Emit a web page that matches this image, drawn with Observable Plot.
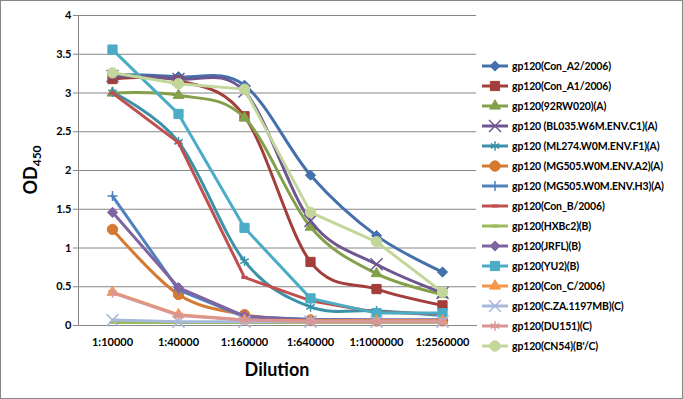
<!DOCTYPE html>
<html><head><meta charset="utf-8">
<script src="https://cdn.jsdelivr.net/npm/d3@7"></script>
<script src="https://cdn.jsdelivr.net/npm/@observablehq/plot@0.6"></script>
<style>
body{margin:0;background:#fff;font-family:Lato,"Open Sans",sans-serif;}
#wrap{position:relative;width:683px;height:399px;}
#legend{position:absolute;left:482px;top:56px;}
.item{height:20px;display:flex;align-items:center;font:bold 10.5px Lato,sans-serif;letter-spacing:-0.15px;color:#000;white-space:nowrap;}
.item svg{display:block;}
</style></head><body><div id="wrap"><div id="legend"></div></div>
<script>
const dilutions = ["1:10000","1:40000","1:160000","1:640000","1:1000000","1:2560000"];
const seriesNames = [
  "gp120(Con_A2/2006)","gp120(Con_A1/2006)","gp120(92RW020)(A)",
  "gp120 (BL035.W6M.ENV.C1)(A)","gp120 (ML274.W0M.ENV.F1)(A)","gp120 (MG505.W0M.ENV.A2)(A)",
  "gp120 (MG505.W0M.ENV.H3)(A)","gp120(Con_B/2006)","gp120(HXBc2)(B)","gp120(JRFL)(B)",
  "gp120(YU2)(B)","gp120(Con_C/2006)","gp120(C.ZA.1197MB)(C)","gp120(DU151)(C)","gp120(CN54)(B'/C)"
];
const conA2   = [3.24, 3.21, 3.10, 1.94, 1.16, 0.69];
const conA1   = [3.18, 3.16, 2.70, 0.82, 0.47, 0.26];
const rw020   = [3.00, 2.97, 2.68, 1.27, 0.67, 0.40];
const bl035   = [3.22, 3.18, 3.02, 1.35, 0.79, 0.42];
const ml274   = [3.01, 2.37, 0.83, 0.24, 0.19, 0.13];
const mg505a2 = [1.24, 0.40, 0.14, 0.07, 0.06, 0.06];
const mg505h3 = [1.67, 0.46, 0.11, 0.08, 0.07, 0.07];
const conB    = [3.00, 2.36, 0.62, 0.32, 0.17, 0.15];
const hxbc2   = [0.04, 0.04, 0.04, 0.04, 0.04, 0.04];
const jrfl    = [1.46, 0.49, 0.12, 0.07, 0.07, 0.07];
const yu2     = [3.56, 2.73, 1.26, 0.35, 0.16, 0.16];
const conC    = [0.43, 0.14, 0.07, 0.06, 0.06, 0.06];
const cza     = [0.07, 0.05, 0.05, 0.05, 0.05, 0.05];
const du151   = [0.42, 0.13, 0.07, 0.05, 0.05, 0.05];
const cn54    = [3.26, 3.12, 3.05, 1.46, 1.08, 0.43];
const seriesValues = [conA2, conA1, rw020, bl035, ml274, mg505a2, mg505h3, conB, hxbc2, jrfl, yu2, conC, cza, du151, cn54];
const yTicks = [0, 0.5, 1, 1.5, 2, 2.5, 3, 3.5, 4];

const seriesColors = ["#4470AB","#A33E3B","#84A04A","#6E5690","#3B92A8","#D57A33","#4F81BD","#C0504D",
  "#9BBB59","#8064A2","#4BACC6","#F79646","#A7B9DA","#DA9694","#C4D79B"];
const seriesMarkers = ["diamond","square","triangle","times","asterisk","circle","plus","dash","dash",
  "diamond","square","triangle","times","asterisk","circle"];
const smoothCount = 6;

const dashSymbol = {draw(ctx, size){const w = Math.sqrt(size)*0.45; ctx.moveTo(-w,0); ctx.lineTo(w,0);}};
const markerDefs = {
  diamond:{symbol:d3.symbolDiamond2, r:4.6, filled:true},
  square:{symbol:d3.symbolSquare, r:5.2, filled:true},
  triangle:{symbol:d3.symbolTriangle, r:4, filled:true},
  times:{symbol:d3.symbolTimes, r:5.5, filled:false},
  asterisk:{symbol:d3.symbolAsterisk, r:4.6, filled:false},
  circle:{symbol:d3.symbolCircle, r:5.2, filled:true},
  plus:{symbol:d3.symbolPlus, r:3.3, filled:false},
  dash:{symbol:dashSymbol, r:4, filled:false}
};

const marks = [
  Plot.gridY(yTicks, {stroke:"#868686", strokeOpacity:1}),
  Plot.frame({anchor:"left", stroke:"#868686"}),
  Plot.frame({anchor:"bottom", stroke:"#868686"}),
  Plot.axisY(yTicks, {tickSize:5, tickPadding:2, tickFormat:d=>String(d), stroke:"#868686", fill:"#000", fontWeight:"bold", fontSize:11, label:null}),
  Plot.axisX({tickSize:0, tickPadding:13, fontWeight:"bold", fontSize:11, fill:"#000", label:null})
];
seriesNames.forEach((name, i) => {
  const data = dilutions.map((d, j) => ({dilution:d, od:seriesValues[i][j]}));
  const m = markerDefs[seriesMarkers[i]];
  marks.push(Plot.line(data, {x:"dilution", y:"od", stroke:seriesColors[i], strokeWidth:3, curve: i < smoothCount ? "cardinal" : "linear"}));
  marks.push(Plot.dot(data, {x:"dilution", y:"od", symbol:m.symbol, r:m.r,
    fill: m.filled ? seriesColors[i] : "none", stroke:seriesColors[i], strokeWidth: m.filled ? 1 : (seriesMarkers[i]==="dash"?3:1.5)}));
});

const chart = Plot.plot({
  width:683, height:399,
  marginLeft:78, marginRight:207, marginTop:15, marginBottom:74,
  x:{type:"point", domain:dilutions, padding:0.5},
  y:{domain:[0,4]},
  style:{fontFamily:"Lato, sans-serif", background:"white", overflow:"visible"},
  marks
});
document.getElementById("wrap").insertBefore(chart, document.getElementById("legend"));

const svg = d3.select(chart);
svg.append("rect").attr("x",0.5).attr("y",0.5).attr("width",682).attr("height",398)
  .attr("fill","none").attr("stroke","#868686");
const yt = svg.append("text").attr("transform","translate(37,170) rotate(-90)")
  .attr("text-anchor","middle").attr("font-weight","bold").attr("font-size",18).attr("fill","#000");
yt.append("tspan").text("OD");
yt.append("tspan").attr("font-size",12).attr("dy",4).text("450");
svg.append("text").attr("x",277).attr("y",376).attr("text-anchor","middle")
  .attr("font-weight","bold").attr("font-size",18).attr("fill","#000").text("Dilution");

const legend = d3.select("#legend");
seriesNames.forEach((name, i) => {
  const m = markerDefs[seriesMarkers[i]];
  const row = legend.append("div").attr("class","item");
  const s = row.append("svg").attr("width",30).attr("height",20);
  s.append("line").attr("x1",0).attr("x2",26).attr("y1",10).attr("y2",10)
    .attr("stroke",seriesColors[i]).attr("stroke-width",3);
  s.append("path").attr("transform","translate(13,10)")
    .attr("d", d3.symbol(m.symbol, Math.PI*m.r*m.r)())
    .attr("fill", m.filled ? seriesColors[i] : "none").attr("stroke", seriesColors[i])
    .attr("stroke-width", m.filled ? 1 : (seriesMarkers[i]==="dash"?3:1.5));
  row.append("span").text(name);
});
</script></body></html>
